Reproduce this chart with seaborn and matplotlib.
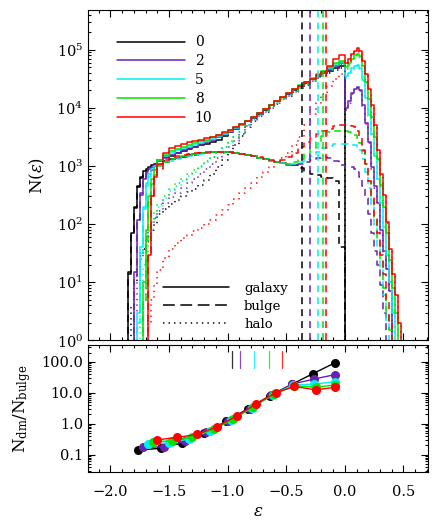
import matplotlib
matplotlib.use("Agg")
import matplotlib.pyplot as plt
from matplotlib.lines import Line2D
from matplotlib.ticker import MultipleLocator, LogLocator, FixedLocator, FormatStrFormatter, NullFormatter
import numpy as np
import seaborn as sns

sns.set_style("ticks", {"axes.edgecolor": "black", "xtick.color": "black", "ytick.color": "black",
                        "xtick.direction": "in", "ytick.direction": "in"})
plt.rcParams["font.family"] = ["DejaVu Serif"]
plt.rcParams["mathtext.fontset"] = "dejavuserif"
plt.rcParams["text.color"] = "black"
plt.rcParams["axes.labelcolor"] = "black"
plt.rcParams["lines.scale_dashes"] = False

# ─── DATA ────────────────────────────────────────────────────────────────────

snapshots = ["0", "2", "5", "8", "10"]
colors = ["#000000", "#6A20B2", "#00F0F0", "#00E400", "#FF0000"]

# histogram bin edges (finer bins at the two steep ends)
edges = [-1.9, -1.875, -1.85, -1.825, -1.8, -1.775, -1.75, -1.725, -1.7, -1.675, -1.65, -1.625, -1.6,
         -1.55, -1.5, -1.45, -1.4, -1.35, -1.3, -1.25, -1.2, -1.15, -1.1, -1.05, -1.0,
         -0.95, -0.9, -0.85, -0.8, -0.75, -0.7, -0.65, -0.6, -0.55, -0.5, -0.45, -0.4,
         -0.35, -0.3, -0.25, -0.2, -0.15, -0.1, -0.05, 0.0,
         0.025, 0.05, 0.075, 0.1, 0.125, 0.15, 0.175, 0.2, 0.225, 0.25, 0.275, 0.3,
         0.325, 0.35, 0.375, 0.4, 0.425, 0.45, 0.475, 0.5]

# galaxy (solid)
gal_0 = [0, 0, 15, 70, 200, 450, 650, 820, 900, 960, 1020, 1080,
         1250, 1400, 1500, 1650, 1800, 1950, 2100, 2250, 2400, 2600, 2820, 3240, 3800, 4370,
         5010, 5890, 6760, 7940, 9330, 10960, 12880, 15140, 17380, 20420, 23440, 26920,
         30900, 35480, 39810, 43650, 47860, 52480,
         0, 0, 0, 0, 0, 0, 0, 0, 0, 0, 0, 0, 0, 0, 0, 0, 0, 0, 0, 0]
gal_2 = [0, 0, 0, 0, 15, 120, 350, 600, 780, 880, 950, 1020,
         1200, 1380, 1550, 1700, 1850, 2000, 2150, 2350, 2550, 2800, 3100, 3450, 3900, 4400,
         5000, 5900, 6800, 8000, 9400, 11000, 13000, 15300, 17600, 20700, 23800, 27400,
         31500, 36500, 41000, 46000, 52000, 58000,
         10000, 13000, 18000, 21000, 23000, 20000, 11000, 5500, 2600, 950, 450, 230,
         80, 35, 17, 7, 0, 0, 0, 0]
gal_5 = [0, 0, 0, 0, 0, 3, 40, 200, 500, 720, 880, 980,
         1250, 1480, 1680, 1850, 2000, 2150, 2300, 2500, 2700, 2950, 3250, 3600, 4050, 4550,
         5100, 5950, 6850, 8050, 9450, 11100, 13100, 15400, 17800, 20900, 24000, 27700,
         31900, 37000, 42000, 49000, 57000, 62000,
         35000, 40000, 48000, 53000, 55000, 48000, 30000, 15000, 7500, 3500, 1500, 600,
         230, 90, 30, 10, 3, 0, 0, 0]
gal_8 = [0, 0, 0, 0, 0, 0, 0, 10, 80, 300, 600, 850,
         1250, 1550, 1800, 1980, 2150, 2300, 2450, 2650, 2850, 3100, 3400, 3750, 4150, 4650,
         5200, 6000, 6900, 8100, 9500, 11200, 13200, 15500, 18000, 21100, 24300, 28000,
         32300, 37500, 43000, 51000, 60000, 65000,
         50000, 58000, 70000, 80000, 85000, 78000, 52000, 28000, 14000, 7000, 3200, 1300,
         480, 200, 70, 24, 8, 3, 0, 0]
gal_10 = [0, 0, 0, 0, 0, 0, 0, 0, 0, 30, 300, 650,
          1100, 1650, 2000, 2200, 2380, 2550, 2700, 2850, 3000, 3200, 3450, 3800, 4200, 4700,
          5250, 6050, 6950, 8100, 9500, 11200, 13100, 15500, 17800, 21000, 24000, 27500,
          31500, 36500, 42000, 52000, 70000, 80000,
          60000, 70000, 85000, 95000, 105000, 95000, 65000, 38000, 21000, 11000, 5100, 1900,
          720, 320, 110, 37, 14, 6, 2, 0]

# bulge (dashed)
bul_0 = [0, 0, 14, 65, 190, 430, 620, 780, 850, 900, 940, 980,
         1100, 1200, 1300, 1380, 1450, 1520, 1580, 1640, 1690, 1720, 1740, 1740, 1720, 1680,
         1620, 1550, 1470, 1390, 1310, 1240, 1180, 1130, 1090, 1020, 940, 820,
         740, 690, 650, 610, 550, 40,
         0, 0, 0, 0, 0, 0, 0, 0, 0, 0, 0, 0, 0, 0, 0, 0, 0, 0, 0, 0]
bul_2 = [0, 0, 0, 0, 12, 110, 320, 560, 720, 800, 850, 890,
         1030, 1150, 1260, 1350, 1430, 1500, 1570, 1630, 1680, 1720, 1740, 1740, 1720, 1680,
         1620, 1550, 1470, 1390, 1310, 1240, 1170, 1110, 1060, 1050, 1080, 1150,
         1250, 1350, 1400, 1350, 1200, 1050,
         950, 950, 950, 900, 800, 650, 450, 280, 150, 70, 35, 20,
         9, 3, 0, 0, 0, 0, 0, 0]
bul_5 = [0, 0, 0, 0, 0, 2, 32, 180, 455, 645, 770, 840,
         1000, 1130, 1240, 1340, 1430, 1500, 1570, 1630, 1680, 1720, 1740, 1740, 1720, 1680,
         1620, 1550, 1470, 1390, 1310, 1240, 1170, 1110, 1080, 1100, 1150, 1300,
         1500, 1750, 2000, 2200, 2350, 2400,
         2350, 2300, 2250, 2250, 2150, 1900, 1300, 800, 420, 200, 90, 40,
         16, 6, 2, 0, 0, 0, 0, 0]
bul_8 = [0, 0, 0, 0, 0, 0, 0, 5, 55, 240, 490, 690,
         1000, 1180, 1300, 1400, 1480, 1540, 1600, 1650, 1690, 1720, 1740, 1740, 1720, 1680,
         1620, 1550, 1470, 1390, 1310, 1240, 1170, 1120, 1100, 1150, 1300, 1600,
         2000, 2600, 3300, 3800, 4000, 4000,
         3950, 3900, 3700, 3400, 3000, 2500, 1800, 1100, 550, 260, 120, 55,
         22, 8, 3, 1.5, 0, 0, 0, 0]
bul_10 = [0, 0, 0, 0, 0, 0, 0, 0, 0, 28, 290, 640,
          900, 1250, 1400, 1500, 1560, 1610, 1650, 1690, 1720, 1740, 1750, 1750, 1730, 1690,
          1630, 1560, 1480, 1400, 1320, 1250, 1200, 1250, 1400, 1700, 2100, 2600,
          3000, 3500, 4000, 4400, 4800, 5000,
          5000, 5000, 4900, 4700, 4000, 3000, 1900, 1100, 550, 280, 140, 70,
          30, 14, 5, 2, 0, 0, 0, 0]

# halo (dotted)
halo_0 = [0, 0, 0, 4, 10, 18, 28, 38, 50, 62, 80, 100,
          150, 185, 225, 265, 310, 360, 410, 480, 580, 720, 950, 1250, 1700, 2300,
          3300, 4700, 6000, 7200, 8500, 10000, 11800, 13900, 16000, 18800, 21600, 24800,
          28500, 32800, 36800, 40400, 44300, 48500,
          0, 0, 0, 0, 0, 0, 0, 0, 0, 0, 0, 0, 0, 0, 0, 0, 0, 0, 0, 0]
halo_2 = [0, 0, 0, 0, 3, 10, 25, 40, 60, 80, 100, 130,
          170, 230, 290, 350, 420, 500, 600, 720, 880, 1080, 1350, 1700, 2150, 2700,
          3500, 4800, 6100, 7300, 8600, 10100, 12000, 14100, 16200, 19000, 21900, 25200,
          29000, 33600, 37700, 42300, 47800, 53400,
          9000, 12000, 17000, 20000, 22000, 19300, 10500, 5200, 2450, 880, 415, 210,
          71, 32, 17, 7, 0, 0, 0, 0]
halo_5 = [0, 0, 0, 0, 0, 1, 8, 20, 45, 75, 110, 140,
          200, 280, 370, 460, 560, 670, 800, 960, 1150, 1400, 1700, 2100, 2600, 3100,
          3800, 5000, 6200, 7400, 8700, 10200, 12000, 14200, 16400, 19200, 22100, 25500,
          29300, 34000, 38600, 45000, 52400, 57000,
          32500, 37500, 45500, 50500, 52800, 46000, 28700, 14200, 7100, 3300, 1400, 560,
          214, 84, 28, 10, 3, 0, 0, 0]
halo_8 = [0, 0, 0, 0, 0, 0, 0, 5, 25, 60, 110, 160,
          220, 310, 410, 500, 600, 720, 850, 1000, 1200, 1450, 1750, 2150, 2650, 3150,
          3900, 5100, 6300, 7500, 8800, 10300, 12200, 14300, 16500, 19300, 22300, 25700,
          29700, 34500, 39500, 47000, 55000, 60000,
          46000, 54000, 66000, 76500, 82000, 75500, 50200, 26900, 13400, 6700, 3080, 1245,
          458, 192, 67, 22, 8, 3, 0, 0]
halo_10 = [0, 0, 0, 0, 0, 0, 0, 0, 0, 2, 5, 9,
           16, 26, 38, 48, 58, 66, 75, 85, 100, 120, 145, 175, 215, 270,
           340, 420, 520, 640, 780, 950, 1150, 1380, 1700, 2300, 3200, 5000,
           7800, 12000, 17500, 24000, 31000, 38000,
           55000, 65000, 80000, 90000, 101000, 92000, 63000, 36900, 20400, 10700, 4960, 1830,
           690, 306, 105, 35, 14, 6, 2, 0]

# energy where the bulge distribution is cut (vertical dashed lines)
bulge_cut = [-0.365, -0.297, -0.227, -0.186, -0.161]
# marker ticks in the ratio panel
ratio_tick = [-0.965, -0.894, -0.774, -0.645, -0.535]

# N_dm / N_bulge
ratio_eps_0 = [-1.76, -1.57, -1.39, -1.20, -1.01, -0.83, -0.64, -0.45, -0.27, -0.08]
ratio_eps_2 = [-1.72, -1.54, -1.36, -1.18, -1.00, -0.81, -0.63, -0.45, -0.26, -0.08]
ratio_eps_5 = [-1.68, -1.50, -1.33, -1.15, -0.97, -0.79, -0.61, -0.44, -0.26, -0.08]
ratio_eps_8 = [-1.64, -1.47, -1.30, -1.12, -0.95, -0.78, -0.60, -0.43, -0.25, -0.08]
ratio_eps_10 = [-1.60, -1.43, -1.26, -1.09, -0.92, -0.76, -0.59, -0.43, -0.25, -0.08]
ratio_0 = [0.14, 0.16, 0.24, 0.50, 1.2, 3.0, 8.0, 19, 42, 95]
ratio_2 = [0.17, 0.18, 0.27, 0.52, 1.2, 3.0, 8.3, 19, 28, 39]
ratio_5 = [0.22, 0.24, 0.32, 0.60, 1.3, 3.3, 8.8, 18, 19, 23]
ratio_8 = [0.26, 0.28, 0.38, 0.65, 1.4, 3.6, 9.3, 17, 15, 18]
ratio_10 = [0.30, 0.36, 0.45, 0.80, 1.8, 4.3, 10, 16, 12.5, 15]

galaxy = [gal_0, gal_2, gal_5, gal_8, gal_10]
bulge = [bul_0, bul_2, bul_5, bul_8, bul_10]
halo = [halo_0, halo_2, halo_5, halo_8, halo_10]
ratio_eps = [ratio_eps_0, ratio_eps_2, ratio_eps_5, ratio_eps_8, ratio_eps_10]
ratio = [ratio_0, ratio_2, ratio_5, ratio_8, ratio_10]

DASH = (5.0, 3.6)
DOT = (1.0, 3.0)
LW = 1.1


def hist_step(ax, values, **kw):
    # post-steps over the bin edges, closed with the last value
    ax.step(edges, list(values) + [values[-1]], where="post", **kw)


# ─── FIGURE ──────────────────────────────────────────────────────────────────

fig = plt.figure(figsize=(4.36, 5.24), dpi=100)
ax1 = fig.add_axes([0.202, 0.3502, 0.7798, 0.6307])
ax2 = fig.add_axes([0.202, 0.0992, 0.7798, 0.2424])

for c, g, b, h in zip(colors, galaxy, bulge, halo):
    hist_step(ax1, g, color=c, lw=LW)
    hist_step(ax1, b, color=c, lw=LW, dashes=DASH)
    hist_step(ax1, h, color=c, lw=LW, dashes=DOT)
for x, c in zip(bulge_cut, colors):
    ax1.axvline(x, color=c, lw=LW, dashes=DASH)

ax1.set_yscale("log", nonpositive="clip")
ax1.set_xlim(-2.19, 0.71)
ax1.set_ylim(1, 4.8e5)
ax1.set_ylabel(r"N($\epsilon$)", fontsize=12, labelpad=7)

leg1 = ax1.legend([Line2D([], [], color=c, lw=LW) for c in colors], snapshots,
                  loc="upper left", bbox_to_anchor=(0.085, 0.923), frameon=False,
                  handlelength=4.9, handletextpad=0.7, labelspacing=0.35,
                  borderpad=0, borderaxespad=0, fontsize=10)
ax1.add_artist(leg1)
ax1.legend([Line2D([], [], color="k", lw=LW),
            Line2D([], [], color="k", lw=LW, dashes=(8.5, 4.0)),
            Line2D([], [], color="k", lw=LW, dashes=DOT)],
           ["galaxy", "bulge", "halo"],
           loc="lower left", bbox_to_anchor=(0.22, 0.03), frameon=False,
           handlelength=5.0, handletextpad=1.15, labelspacing=0.37,
           borderpad=0, borderaxespad=0, fontsize=9.5)

# ratio panel
for c, xs, ys in zip(colors, ratio_eps, ratio):
    sns.lineplot(x=xs, y=ys, ax=ax2, color=c, lw=1.0, marker="o", markersize=6.5,
                 markeredgewidth=0, sort=False, estimator=None)
for x, c in zip(ratio_tick, colors):
    ax2.axvline(x, ymin=0.82, ymax=0.955, color=c, lw=0.9, alpha=0.8)

ax2.set_yscale("log")
ax2.set_xlim(-2.19, 0.71)
ax2.set_ylim(0.0273, 352)
ax2.yaxis.set_major_locator(FixedLocator([0.1, 1, 10, 100]))
ax2.yaxis.set_major_formatter(FormatStrFormatter("%.1f"))
ax2.yaxis.set_minor_locator(LogLocator(base=10, subs=np.arange(2, 10), numticks=20))
ax2.yaxis.set_minor_formatter(NullFormatter())
ax2.set_xlabel(r"$\epsilon$", fontsize=12, labelpad=3)
ax2.set_ylabel(r"N$_{\rm dm}$/N$_{\rm bulge}$", fontsize=12, labelpad=6)

for ax in (ax1, ax2):
    ax.xaxis.set_major_locator(MultipleLocator(0.5))
    ax.xaxis.set_minor_locator(MultipleLocator(0.1))
    ax.tick_params(which="both", direction="in", top=True, right=True, width=0.8,
                   labelsize=10.5, colors="black")
    ax.tick_params(which="major", length=5)
    ax.tick_params(which="minor", length=2.5)
    ax.tick_params(axis="x", pad=9)
    for s in ax.spines.values():
        s.set_linewidth(0.8)
        s.set_color("black")
ax1.yaxis.set_minor_locator(LogLocator(base=10, subs=np.arange(2, 10), numticks=20))
ax1.tick_params(labelbottom=False)

fig.savefig("out.png", dpi=100)
